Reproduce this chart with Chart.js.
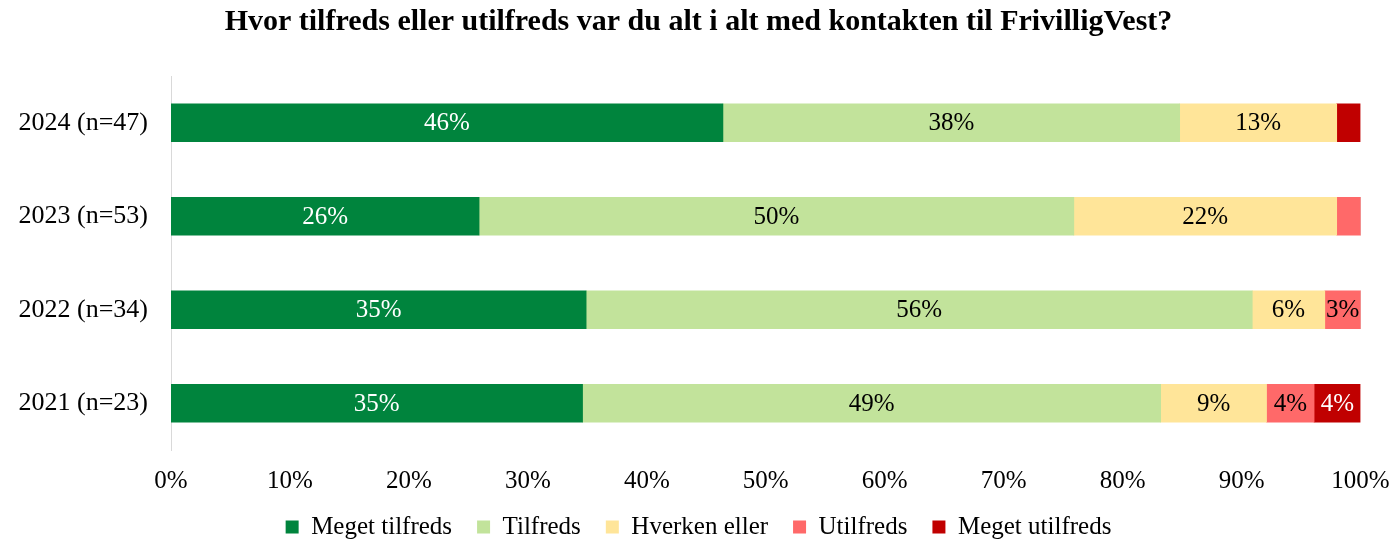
<!DOCTYPE html>
<html>
<head>
<meta charset="utf-8">
<script src="https://cdn.jsdelivr.net/npm/chart.js@4"></script>
<style>
html,body{margin:0;padding:0;background:#fff;}
canvas{display:block;}
</style>
</head>
<body>
<canvas id="c" width="1397" height="541"></canvas>
<script>
const categories = ['2024 (n=47)', '2023 (n=53)', '2022 (n=34)', '2021 (n=23)'];
const seriesNames = ['Meget tilfreds', 'Tilfreds', 'Hverken eller', 'Utilfreds', 'Meget utilfreds'];
const megetTilfreds = [46.4, 25.9, 34.9, 34.6];
const tilfreds = [38.4, 50.0, 56.0, 48.6];
const hverkenEller = [13.2, 22.1, 6.1, 8.9];
const utilfreds = [0, 2.0, 3.0, 4.0];
const megetUtilfreds = [2.0, 0, 0, 3.9];
const xTickLabels = ['0%', '10%', '20%', '30%', '40%', '50%', '60%', '70%', '80%', '90%', '100%'];

const colors = ['#00843D', '#C2E39B', '#FFE599', '#FF6969', '#C00000'];
const labelColors = ['#FFFFFF', '#000000', '#000000', '#000000', '#FFFFFF'];
const FONT = "'Liberation Serif', 'Times New Roman', serif";

const seriesValues = [megetTilfreds, tilfreds, hverkenEller, utilfreds, megetUtilfreds];

const dataLabelPlugin = {
  id: 'dataLabels',
  afterDatasetsDraw(chart) {
    const ctx = chart.ctx;
    ctx.save();
    ctx.font = '25px ' + FONT;
    ctx.textAlign = 'center';
    ctx.textBaseline = 'middle';
    chart.data.datasets.forEach((ds, di) => {
      const meta = chart.getDatasetMeta(di);
      meta.data.forEach((el, i) => {
        const v = ds.data[i];
        if (v < 2.5) return;
        const p = el.getProps(['x', 'y', 'base'], true);
        ctx.fillStyle = labelColors[di];
        ctx.fillText(Math.round(v) + '%', (p.x + p.base) / 2, p.y + 1);
      });
    });
    ctx.restore();
  }
};

new Chart(document.getElementById('c'), {
  type: 'bar',
  data: {
    labels: categories,
    datasets: seriesNames.map((name, i) => ({
      label: name,
      data: seriesValues[i],
      backgroundColor: colors[i],
      borderWidth: 0,
      barThickness: 38
    }))
  },
  options: {
    indexAxis: 'y',
    responsive: false,
    animation: false,
    events: [],
    layout: { padding: { left: 18, right: 18, top: 0, bottom: 0 } },
    scales: {
      x: {
        stacked: true,
        min: 0, max: 100,
        grid: { display: false, drawTicks: false },
        border: { display: false },
        ticks: {
          stepSize: 10,
          mirror: true,
          padding: -46,
          color: '#000',
          font: { family: FONT, size: 25 },
          callback: (v) => xTickLabels[Math.round(v / 10)]
        },
        afterFit: (s) => { s.height = 39.5; s.paddingLeft = 0; s.paddingRight = 0; }
      },
      y: {
        stacked: true,
        grid: { display: false, drawTicks: false },
        border: { display: true, color: '#D9D9D9', width: 1 },
        ticks: {
          padding: 23,
          color: '#000',
          font: { family: FONT, size: 26 }
        },
        afterFit: (s) => { s.width = 153; }
      },
      y2: {
        type: 'linear',
        axis: 'y',
        position: 'right',
        display: true,
        grid: { display: false, drawTicks: false },
        border: { display: false },
        ticks: { display: false },
        afterFit: (s) => { s.width = 18.5; }
      }
    },
    plugins: {
      title: {
        display: true,
        text: 'Hvor tilfreds eller utilfreds var du alt i alt med kontakten til FrivilligVest?',
        color: '#000',
        font: { family: FONT, size: 30, weight: 'bold', lineHeight: 1.2 },
        padding: { top: 4.5, bottom: 35.5 }
      },
      legend: {
        position: 'bottom',
        maxHeight: 51.5,
        labels: {
          boxWidth: 13,
          boxHeight: 13,
          padding: 25,
          color: '#000',
          font: { family: FONT, size: 25 }
        }
      },
      tooltip: { enabled: false }
    }
  },
  plugins: [dataLabelPlugin]
});
</script>
</body>
</html>
